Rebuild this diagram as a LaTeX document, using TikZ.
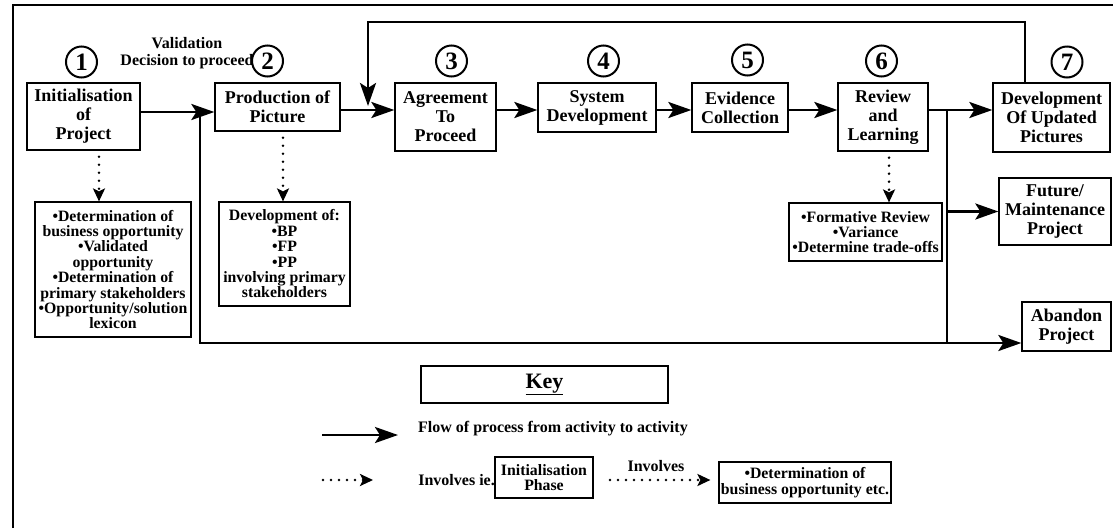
\documentclass[tikz,border=0pt]{standalone}
\usepackage{fontspec}
\setmainfont{Liberation Serif}
\usetikzlibrary{arrows.meta}
\begin{document}
\begin{tikzpicture}[x=1pt,y=-1pt,
  box/.style={draw, line width=1.3pt, align=center, inner sep=0pt,
    font=\bfseries\fontsize{18}{19}\selectfont},
  note/.style={draw, line width=1.2pt, align=center, inner sep=0pt,
    font=\bfseries\fontsize{15.8}{15.4}\selectfont},
  num/.style={circle, draw, line width=2pt, minimum size=31pt, inner sep=0pt,
    font=\bfseries\fontsize{25}{25}\selectfont},
  flow/.style={line width=2.8pt, -{Stealth[length=23pt,width=16pt,inset=5pt]}},
  trunk/.style={line width=2.8pt},
  inv/.style={line width=2.8pt, line cap=round, dash pattern=on 0pt off 8pt,
    -{Stealth[length=13pt,width=12pt,inset=3pt]}},
  lbl/.style={font=\bfseries\fontsize{16}{17}\selectfont, align=center, inner sep=0pt}
]
\useasboundingbox (0,0) rectangle (1113,528);

% page frame (left and top edges)
\coordinate (fl) at (13,528);
\coordinate (fc) at (13,5);
\coordinate (fr) at (1113,5);
\draw[line width=1.3pt] (fl) -- (fc) -- (fr);

% main activities
\node[box, minimum width=113pt, minimum height=67pt] (b1) at (83.5,116.5) {Initialisation\\of\\Project};
\node[box, minimum width=125pt, minimum height=48pt] (b2) at (277.5,107) {Production of\\Picture};
\node[box, minimum width=101pt, minimum height=68pt] (b3) at (445.5,117) {Agreement\\To\\Proceed};
\node[box, minimum width=118pt, minimum height=49pt] (b4) at (597,107.5) {System\\Development};
\node[box, minimum width=96pt, minimum height=49pt] (b5) at (740,107.5) {Evidence\\Collection};
\node[box, minimum width=90pt, minimum height=68pt] (b6) at (883,117) {Review\\and\\Learning};
\node[box, minimum width=117pt, minimum height=69pt] (b7) at (1051.5,117.5) {Development\\Of Updated\\Pictures};
\node[box, minimum width=112pt, minimum height=67pt] (fut) at (1055,211.5) {Future/\\Maintenance\\Project};
\node[box, minimum width=89pt, minimum height=49pt] (ab) at (1066.5,326.5) {Abandon\\Project};

% activity numbers
\node[num] (n1) at (81.5,62) {1};
\node[num] (n2) at (267.5,61) {2};
\node[num] (n3) at (451.5,61) {3};
\node[num] (n4) at (603.5,61) {4};
\node[num] (n5) at (747.5,60) {5};
\node[num] (n6) at (881.5,61) {6};
\node[num] (n7) at (1067,62) {7};

\node[lbl] (val) at (187,53) {Validation\\Decision to proceed};

% what each phase involves
\node[note, minimum width=156pt, minimum height=135pt] (d1) at (113,269.5)
  {•Determination of\\business opportunity\\•Validated\\opportunity\\•Determination of\\primary stakeholders\\•Opportunity/solution\\lexicon};
\node[note, minimum width=131pt, minimum height=104pt] (d2) at (284.5,254)
  {Development of:\\•BP\\•FP\\•PP\\involving primary\\stakeholders};
\node[note, minimum width=153pt, minimum height=58pt] (d6) at (865.5,232)
  {•Formative Review\\•Variance\\•Determine trade-offs};

% routing points
\coordinate (j1) at (200,112);
\coordinate (row) at (0,110);
\coordinate (jb) at (0,343);
\coordinate (j6) at (947,110);
\coordinate (fb) at (1025,22);
\coordinate (fd) at (368,106);
\coordinate (x1) at (99,0);
\coordinate (x2) at (283,0);
\coordinate (x6) at (889,0);

% process flow
\draw[flow] (b1.east |- j1) -- (b2.west |- j1);
\draw[trunk] (j1) |- (j6 |- jb);
\draw[flow] (j1 |- jb) -- (ab.west |- jb);
\draw[trunk] (j6) -- (j6 |- jb);
\draw[flow] (b2.east |- row) -- (b3.west |- row);
\draw[flow] (b3.east |- row) -- (b4.west |- row);
\draw[flow] (b4.east |- row) -- (b5.west |- row);
\draw[flow] (b5.east |- row) -- (b6.west |- row);
\draw[flow] (b6.east |- j6) -- (b7.west |- j6);
\draw[flow] (j6 |- fut) -- (fut.west);
\draw[flow] (b7.north -| fb) -- (fb) -| (fd);

% involvement links
\draw[inv, shorten <=6pt] (b1.south -| x1) -- (d1.north -| x1);
\draw[inv, shorten <=6pt] (b2.south -| x2) -- (d2.north -| x2);
\draw[inv, shorten <=6pt] (b6.south -| x6) -- (d6.north -| x6);

% key
\node[draw, line width=1.3pt, minimum width=247pt, minimum height=37pt, inner sep=0pt,
  font=\bfseries\fontsize{22}{22}\selectfont] (key) at (544.5,384.5) {\underline{Key}};
\coordinate (k1) at (322,435);
\coordinate (k2) at (398,435);
\draw[flow] (k1) -- (k2);
\node[lbl, anchor=west] (kflow) at (418,429) {Flow of process from activity to activity};
\coordinate (k3) at (323,480);
\coordinate (k4) at (373,480);
\draw[inv] (k3) -- (k4);
\node[lbl, anchor=east] (kie) at (495,480) {Involves ie.};
\node[note, minimum width=98pt, minimum height=41pt] (kb1) at (544,477.5) {Initialisation\\Phase};
\node[lbl] (kinv) at (656,466) {Involves};
\node[note, minimum width=172pt, minimum height=41pt] (kb2) at (805,482.5)
  {•Determination of\\business opportunity etc.};
\coordinate (k5) at (610,480);
\draw[inv, shorten >=8pt] (k5) -- (kb2.west |- k5);
\end{tikzpicture}
\end{document}
